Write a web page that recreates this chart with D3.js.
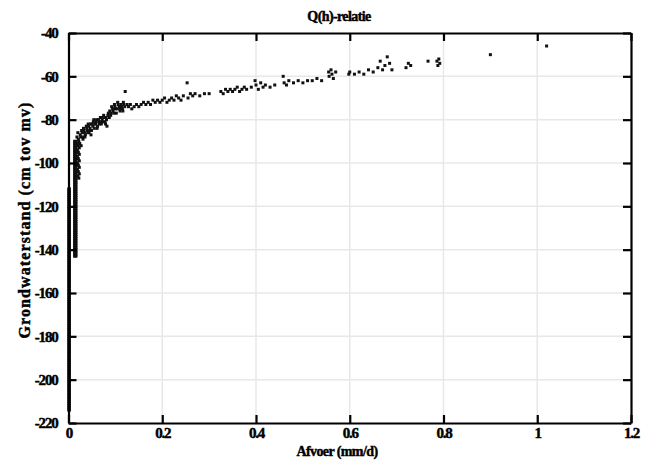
<!DOCTYPE html>
<html><head><meta charset="utf-8">
<script src="https://cdn.jsdelivr.net/npm/d3@7"></script>
<style>
body{margin:0;background:#fff;}
svg text{font-family:"Liberation Serif","Times New Roman",serif;font-weight:bold;fill:#000;stroke:#000;stroke-width:0.45px;}
</style></head>
<body><svg id="c" width="660" height="460"></svg>
<script>
// ---- data ----
const xTicks = [0, 0.2, 0.4, 0.6, 0.8, 1, 1.2];
const yTicks = [-40, -60, -80, -100, -120, -140, -160, -180, -200, -220];
const xTickLabels = ["0", "0.2", "0.4", "0.6", "0.8", "1", "1.2"];
const yTickLabels = ["-40", "-60", "-80", "-100", "-120", "-140", "-160", "-180", "-200", "-220"];

// near-zero discharge strip (afvoer ~0)
const stripLowH = [-112,-113,-114,-115,-116,-117,-118,-119,-120,-121,-122,-123,-124,-125,-126,-127,-128,-129,-130,-131,-132,-133,-134,-135,-136,-137,-138,-139,-140,-141,-142,-143,-144,-145,-146,-147,-148,-149,-150,-151,-152,-153,-154,-155,-156,-157,-158,-159,-160,-161,-162,-163,-164,-165,-166,-167,-168,-169,-170,-171,-172,-173,-174,-175,-176,-177,-178,-179,-180,-181,-182,-183,-184,-185,-186,-187,-188,-189,-190,-191,-192,-193,-194,-195,-196,-197,-198,-199,-200,-201,-202,-203,-204,-205,-206,-207,-208,-209,-210,-211,-212,-213,-214];
const stripLowQ = [0.0005,0.002];

// second strip (afvoer ~0.014)
const stripMidH = [-90,-91,-92,-93,-94,-95,-96,-97,-98,-99,-100,-101,-102,-103,-104,-105,-106,-107,-108,-109,-110,-111,-112,-113,-114,-115,-116,-117,-118,-119,-120,-121,-122,-123,-124,-125,-126,-127,-128,-129,-130,-131,-132,-133,-134,-135,-136,-137,-138,-139,-140,-141,-142,-143];
const stripMidQ = [0.013,0.016];
const blockQ = [0.019,0.021,0.023,0.019,0.021,0.023,0.019,0.021,0.023,0.019,0.021,0.023,0.019,0.021,0.023,0.02,0.022];
const blockH = [-91,-92,-93,-94,-95,-96,-97,-98,-99,-100,-101,-102,-103,-104,-105,-106,-107];

// main curve
const curveQ = [0.018,0.02,0.022,0.025,0.027,0.028,0.03,0.032,0.034,0.035,0.038,0.04,0.042,0.044,0.046,0.048,0.05,0.053,0.055,0.058,0.06,0.062,0.065,0.068,0.07,0.072,0.075,0.078,0.08,0.082,0.085,0.088,0.09,0.092,0.095,0.098,0.1,0.102,0.105,0.108,0.11,0.112,0.115,0.117,0.121,0.12,0.125,0.128,0.132,0.135,0.14,0.145,0.15,0.155,0.16,0.165,0.17,0.175,0.18,0.185,0.19,0.195,0.2,0.205,0.21,0.215,0.22,0.225,0.23,0.235,0.24,0.245,0.253,0.255,0.26,0.265,0.27,0.28,0.29,0.3,0.325,0.33,0.335,0.34,0.345,0.35,0.355,0.36,0.365,0.37,0.375,0.38,0.39,0.398,0.4,0.405,0.41,0.415,0.42,0.43,0.44,0.458,0.46,0.465,0.47,0.48,0.49,0.5,0.51,0.52,0.53,0.54,0.555,0.556,0.56,0.562,0.565,0.57,0.598,0.6,0.61,0.62,0.63,0.64,0.65,0.66,0.665,0.67,0.675,0.68,0.685,0.69,0.72,0.725,0.73,0.767,0.786,0.788,0.79,0.792,0.9,1.02,
  0.021,0.024,0.026,0.029,0.031,0.033,0.036,0.039,0.041,0.043,0.045,0.047,0.049,0.052,0.054,0.056,0.059,0.061,0.064,0.066,0.069,0.071,0.074,0.077,0.079,0.081,0.084,0.087,0.091,0.094,0.097,0.099,0.103,0.106,0.109,0.113,0.116,0.118];
const curveH = [-88,-86,-90,-87,-92,-85,-88,-84,-86,-88,-83,-85,-82,-86,-84,-87,-82,-81,-84,-82,-80,-83,-81,-79,-82,-80,-78,-81,-79,-83,-77,-76,-78,-74,-76,-73,-75,-77,-72,-74,-76,-73,-75,-72,-67,-74,-73,-74,-73,-75,-74,-73,-74,-73,-72,-73,-72,-73,-71,-72,-71,-72,-71,-70,-72,-71,-70,-71,-69,-70,-71,-69,-63,-70,-68,-69,-68,-69,-68,-68,-67,-68,-66,-67,-66,-67,-66,-65,-67,-66,-65,-66,-65,-62,-64,-66,-63,-65,-64,-65,-64,-60,-63,-64,-62,-63,-62,-63,-62,-62,-61,-62,-58,-60,-57,-59,-61,-58,-59,-58,-59,-58,-59,-57,-58,-56,-53,-57,-55,-51,-54,-57,-56,-54,-55,-53,-53,-55,-52,-54,-50,-46,
  -89,-91,-88,-86,-89,-85,-87,-84,-86,-83,-85,-82,-85,-83,-80,-82,-81,-84,-80,-82,-81,-79,-81,-79,-82,-80,-78,-79,-77,-75,-77,-74,-75,-73,-75,-74,-76,-73];

// ---- chart ----
const svg = d3.select("#c");
const L = 68.5, R = 631, T = 33, B = 423;
const x = d3.scaleLinear().domain([0, 1.2]).range([L, R]);
const y = d3.scaleLinear().domain([-220, -40]).range([B, T]);

// grid
const grid = svg.append("g");
grid.selectAll("line.v").data(xTicks.slice(1, -1)).join("line")
  .attr("x1", d => x(d)).attr("x2", d => x(d)).attr("y1", T).attr("y2", B)
  .attr("stroke", "#e8e8e8").attr("stroke-width", 1.5);
grid.selectAll("line.h").data(yTicks.slice(1, -1)).join("line")
  .attr("y1", d => y(d)).attr("y2", d => y(d)).attr("x1", L).attr("x2", R)
  .attr("stroke", "#e8e8e8").attr("stroke-width", 1.5);

// points
const pts = [];
stripLowH.forEach(h => stripLowQ.forEach(q => pts.push([q, h])));
stripMidH.forEach(h => stripMidQ.forEach(q => pts.push([q, h])));
blockQ.forEach((q, i) => pts.push([q, blockH[i]]));
curveQ.forEach((q, i) => pts.push([q, curveH[i]]));
svg.append("g").selectAll("rect").data(pts).join("rect")
  .attr("x", d => x(d[0]) - 1.5).attr("y", d => y(d[1]) - 1.5)
  .attr("width", 3).attr("height", 3).attr("fill", "#111");

// axes
function style(g) {
  g.attr("font-family", null);
  g.select(".domain").attr("stroke", "#000").attr("stroke-width", 2.2);
  g.selectAll(".tick line").attr("stroke", "#000").attr("stroke-width", 2.2);
  g.selectAll("text").attr("font-size", 15).attr("letter-spacing", "-1.2px")
    .style("font-family", "'Liberation Serif', serif").style("font-weight", "bold");
}
const fmtX = (d, i) => xTickLabels[i];
const fmtY = (d, i) => yTickLabels[i];
svg.append("g").attr("transform", `translate(0,${B})`)
  .call(d3.axisBottom(x).tickValues(xTicks).tickFormat(fmtX).tickSizeInner(-8).tickSizeOuter(0).tickPadding(4))
  .call(style);
svg.append("g").attr("transform", `translate(0,${T})`)
  .call(d3.axisTop(x).tickValues(xTicks).tickFormat("").tickSizeInner(-8).tickSizeOuter(0))
  .call(style);
svg.append("g").attr("transform", `translate(${L},0)`)
  .call(d3.axisLeft(y).tickValues(yTicks).tickFormat(fmtY).tickSizeInner(-8).tickSizeOuter(0).tickPadding(11))
  .call(style);
svg.append("g").attr("transform", `translate(${R},0)`)
  .call(d3.axisRight(y).tickValues(yTicks).tickFormat("").tickSizeInner(-8).tickSizeOuter(0))
  .call(style);

// titles
svg.append("text").attr("x", 339).attr("y", 21).attr("text-anchor", "middle")
  .attr("font-size", 14).attr("letter-spacing", "-0.6px").text("Q(h)-relatie");
svg.append("text").attr("x", 337).attr("y", 456).attr("text-anchor", "middle")
  .attr("font-size", 14).attr("letter-spacing", "-0.6px").text("Afvoer (mm/d)");
svg.append("text").attr("transform", "translate(30,220) rotate(-90)").attr("text-anchor", "middle")
  .attr("font-size", 16).attr("letter-spacing", "1.1px").text("Grondwaterstand (cm tov mv)");
</script></body></html>
